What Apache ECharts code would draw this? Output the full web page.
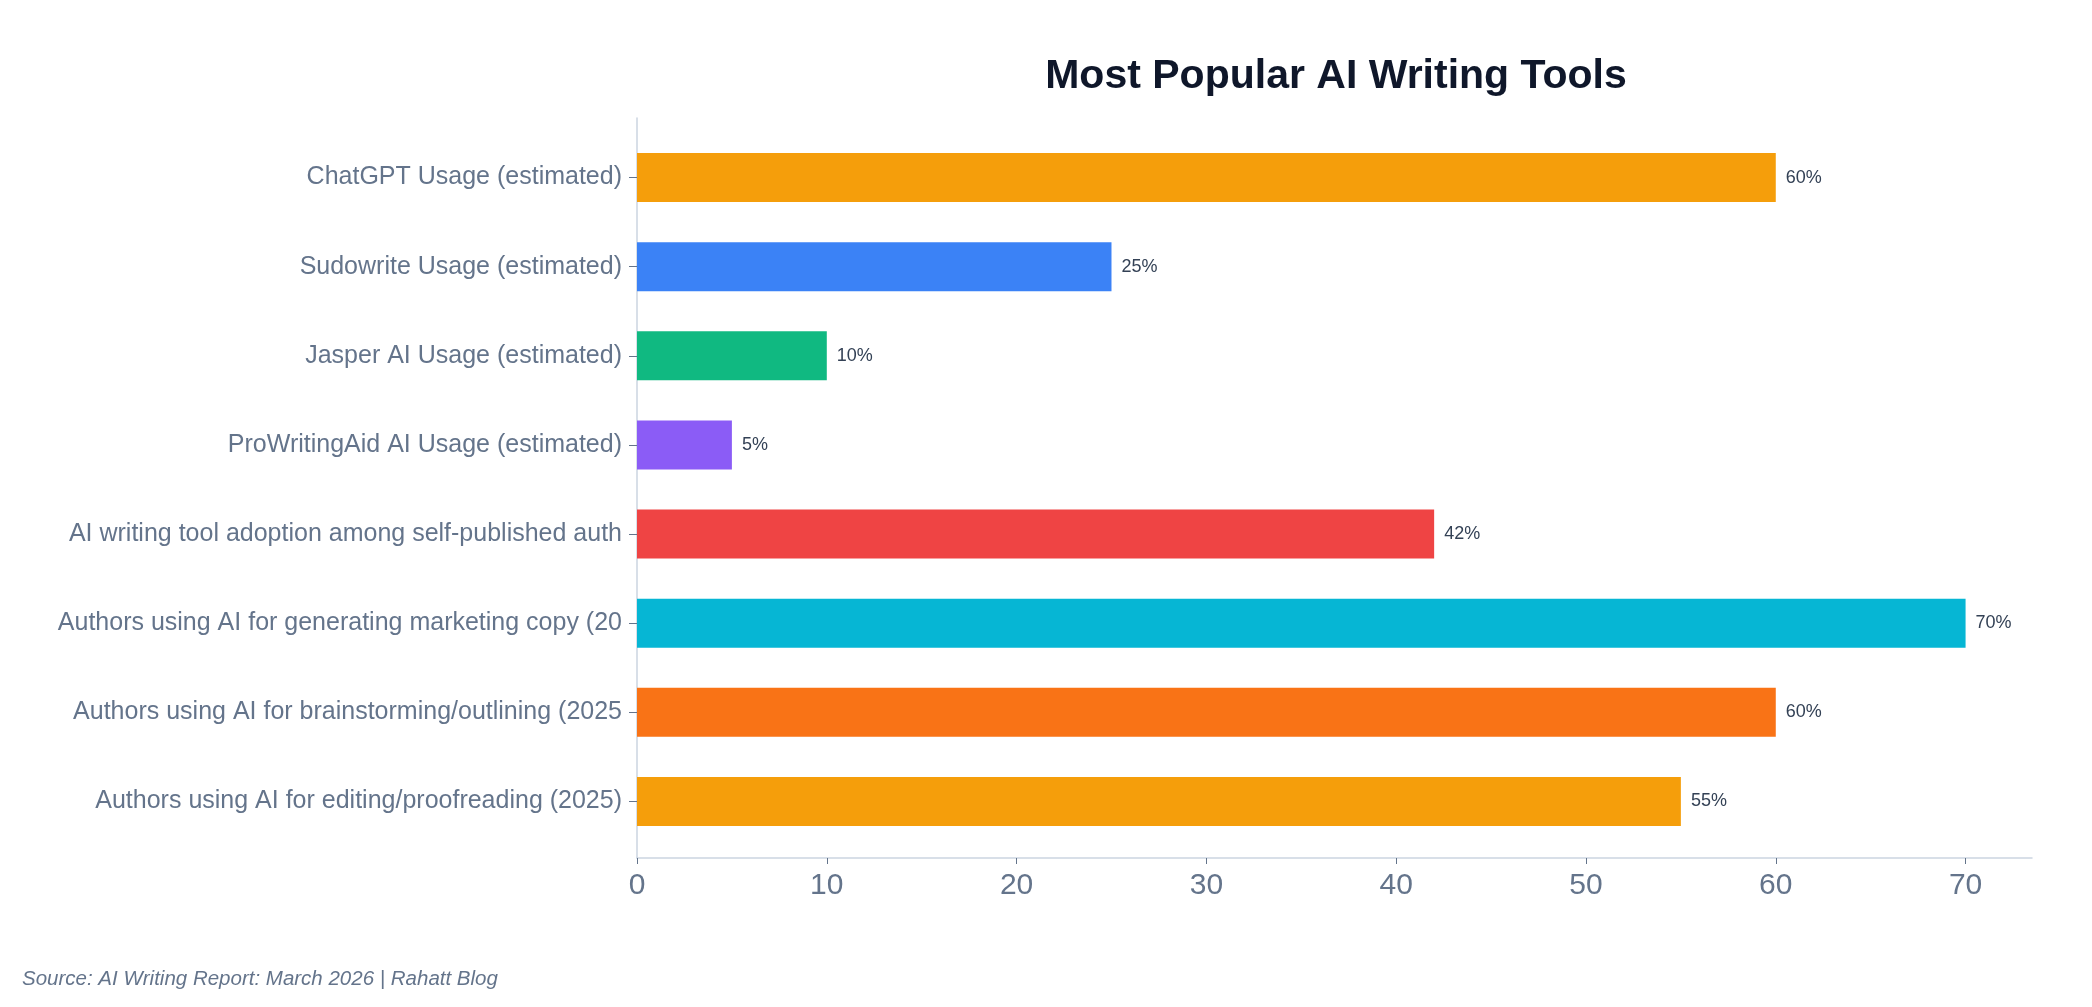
<!DOCTYPE html>
<html>
<head>
<meta charset="utf-8">
<title>Most Popular AI Writing Tools</title>
<script src="https://cdn.jsdelivr.net/npm/echarts@6/dist/echarts.min.js"></script>
<style>
  html, body { margin: 0; padding: 0; background: #fff; }
  #chart { width: 2092px; height: 1007px; }
</style>
</head>
<body>
<div id="chart"></div>
<script>
// labels are cut at 50 chars in the source picture, kept as shown
const categories = [
  'ChatGPT Usage (estimated)',
  'Sudowrite Usage (estimated)',
  'Jasper AI Usage (estimated)',
  'ProWritingAid AI Usage (estimated)',
  'AI writing tool adoption among self-published auth',
  'Authors using AI for generating marketing copy (20',
  'Authors using AI for brainstorming/outlining (2025',
  'Authors using AI for editing/proofreading (2025)'
]
const values = [60, 25, 10, 5, 42, 70, 60, 55]
const barColors = ['#f59e0b', '#3b82f6', '#10b981', '#8b5cf6', '#ef4444', '#06b6d4', '#f97316', '#f59e0b']
const xTicks = [0, 10, 20, 30, 40, 50, 60, 70]
const xMax = 73.5

const font = '"Liberation Sans", Arial, Helvetica, sans-serif'
const slate = '#64748b'
const lineColor = '#cbd5e1'

const chart = echarts.init(document.getElementById('chart'))

chart.setOption({
  backgroundColor: '#ffffff',
  animation: false,
  textStyle: { fontFamily: font },
  grid: [
    // outer frame: carries the axis lines and the x tick labels
    { left: 637, right: 60, top: 118, height: 740 },
    // inner band: where the bars sit
    { left: 637, right: 60, top: 133, height: 713 }
  ],
  xAxis: [
    {
      gridIndex: 0,
      type: 'value',
      min: 0,
      max: xMax,
      splitLine: { show: false },
      axisLine: { show: true, lineStyle: { color: lineColor, width: 1.5 } },
      axisTick: { show: true, length: 6, customValues: xTicks, lineStyle: { color: slate } },
      axisLabel: { customValues: xTicks, color: slate, fontSize: 30, margin: 13, fontFamily: font }
    },
    {
      gridIndex: 1,
      type: 'value',
      min: 0,
      max: xMax,
      show: false
    }
  ],
  yAxis: [
    {
      gridIndex: 0,
      type: 'value',
      min: 0,
      max: 1,
      splitLine: { show: false },
      axisLine: { show: true, lineStyle: { color: lineColor, width: 1.5 } },
      axisTick: { show: false },
      axisLabel: { show: false }
    },
    {
      gridIndex: 1,
      type: 'category',
      data: categories,
      inverse: true,
      axisLine: { show: false },
      axisTick: { show: true, length: 8, alignWithLabel: true, lineStyle: { color: slate } },
      axisLabel: { color: slate, fontSize: 25, margin: 15, fontFamily: font }
    }
  ],
  series: [
    {
      type: 'bar',
      xAxisIndex: 1,
      yAxisIndex: 1,
      barWidth: 49,
      data: values.map((v, i) => ({ value: v, itemStyle: { color: barColors[i] } })),
      label: {
        show: true,
        position: 'right',
        distance: 10,
        formatter: '{c}%',
        color: '#334155',
        fontSize: 18,
        fontFamily: font
      }
    }
  ],
  graphic: [
    {
      type: 'text',
      x: 1336,
      y: 77,
      style: {
        text: 'Most Popular AI Writing Tools',
        font: 'bold 41px ' + font,
        fill: '#0f172a',
        textAlign: 'center',
        textVerticalAlign: 'middle'
      }
    },
    {
      type: 'text',
      x: 22,
      y: 979,
      style: {
        text: 'Source: AI Writing Report: March 2026 | Rahatt Blog',
        font: 'italic 20.5px ' + font,
        fill: slate,
        textAlign: 'left',
        textVerticalAlign: 'middle'
      }
    }
  ]
})
</script>
</body>
</html>
